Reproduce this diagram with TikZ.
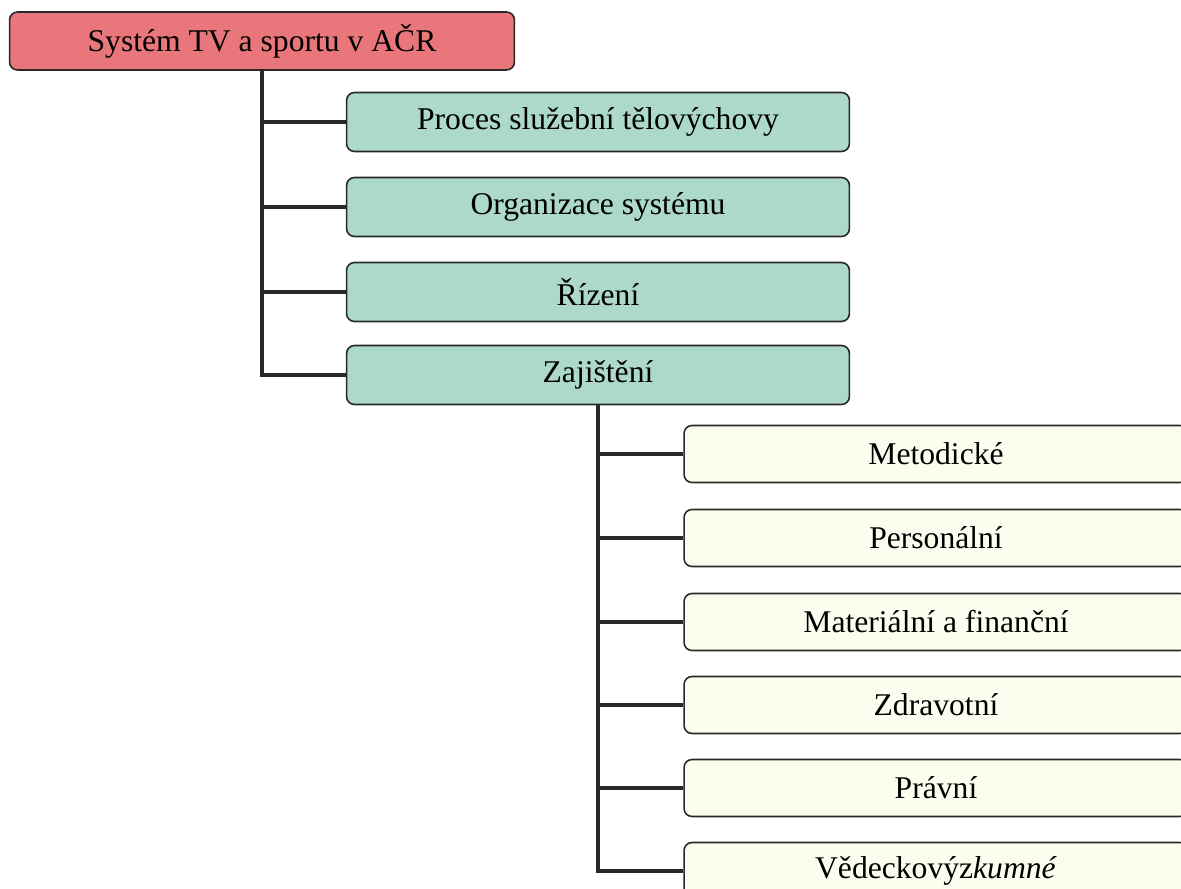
\documentclass[tikz,border=0pt]{standalone}
\usepackage{fontspec}
\setmainfont{Liberation Serif}
\usepackage{tikz}
\definecolor{colroot}{RGB}{233,118,122}
\definecolor{colarea}{RGB}{172,217,202}
\definecolor{colsub}{RGB}{253,253,239}
\definecolor{colline}{RGB}{40,40,40}
\usetikzlibrary{
	positioning
}
\tikzset{
	box/.style={draw=colline, line width=0.9pt, rounded corners=0.16cm,
		font=\fontsize{18}{22}\selectfont, inner sep=0pt},
	rootbox/.style={box, fill=colroot, minimum width=10.1cm, minimum height=1.16cm},
	areabox/.style={box, fill=colarea, minimum width=10.06cm, minimum height=1.18cm},
	subbox/.style={box, fill=colsub, minimum width=10.08cm, minimum height=1.14cm},
	link/.style={draw=colline, line width=2.8pt}
}

\begin{document}
\begin{tikzpicture}[x=0.02cm, y=-0.02cm]
	\clip (0,0) rectangle (1181,889);
	\fill[white] (0,0) rectangle (1181,889);
	\node[rootbox] (root) at (262,41) {Systém TV a sportu v AČR};
	% hlavni oblasti
	\foreach \label/\y [count=\i] in {Proces služební tělovýchovy/122,
		Organizace systému/207, Řízení/292, Zajištění/375} {
		\node[areabox] (area\i) at (598,\y) {\label};
		\draw[link] (root.south) |- (area\i.west);
	}
	% druhy zajisteni
	\foreach \label/\y [count=\i] in {Metodické/454, Personální/538,
		Materiální a finanční/622, Zdravotní/705, Právní/788,
		Vědeckovýz\textit{kumné}/871} {
		\node[subbox] (sub\i) at (936,\y) {\label};
		\draw[link] (area4.south) |- (sub\i.west);
	}
\end{tikzpicture}
\end{document}
